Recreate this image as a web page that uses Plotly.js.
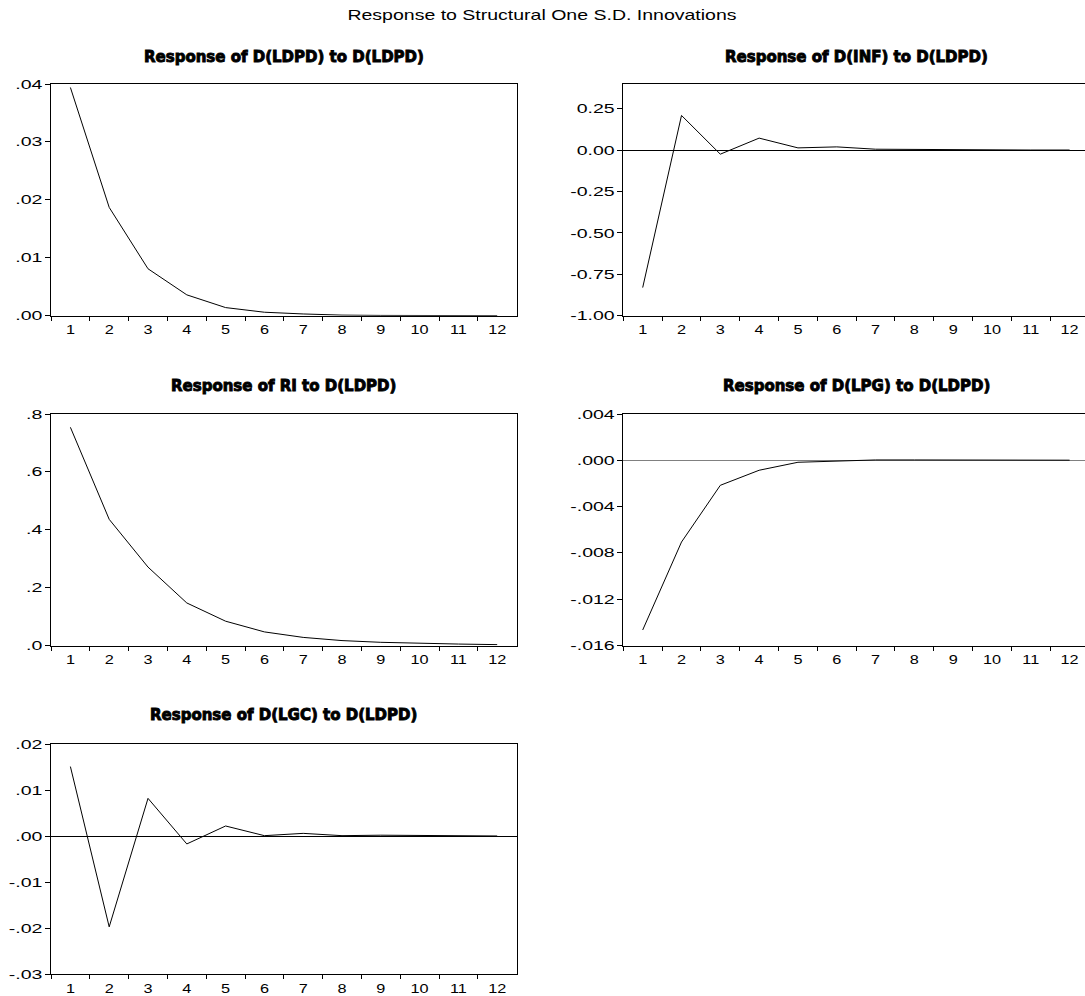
<!DOCTYPE html>
<html>
<head>
<meta charset="utf-8">
<script src="https://cdn.plot.ly/plotly-3.0.1.min.js"></script>
<style>
  html, body { margin: 0; padding: 0; overflow: hidden; background: #fff; }
  #chart { width: 1095px; height: 996px; }
  .annotation-text { stroke: #000; stroke-width: 0.9px; paint-order: stroke; }
</style>
</head>
<body>
<div id="chart"></div>
<script>
// ---- data ----
const periods = ["1","2","3","4","5","6","7","8","9","10","11","12"];

const mainTitle = "Response to Structural One S.D. Innovations";
const panelTitles = [
  "Response of D(LDPD) to D(LDPD)",
  "Response of D(INF) to D(LDPD)",
  "Response of RI to D(LDPD)",
  "Response of D(LPG) to D(LDPD)",
  "Response of D(LGC) to D(LDPD)"
];

const ldpd = [0.0394, 0.0187, 0.0081, 0.0036, 0.0014, 0.0006, 0.0003, 0.0001, 0.00005, 0.00002, 0.00001, 0.00001];
const inf  = [-0.830, 0.210, -0.024, 0.073, 0.014, 0.020, 0.006, 0.004, 0.002, 0.002, 0.001, 0.001];
const ri   = [0.754, 0.436, 0.271, 0.147, 0.084, 0.047, 0.028, 0.017, 0.011, 0.007, 0.005, 0.003];
const lpg  = [-0.01466, -0.00706, -0.00216, -0.00086, -0.00017, -0.00006, 0.00003, 0.00003, 0.00002, 0.00002, 0.00001, 0.00001];
const lgc  = [0.0151, -0.0197, 0.0082, -0.0017, 0.0022, 0.0001, 0.0006, 0.0001, 0.0002, 0.0001, 0.00005, 0.00003];

const ldpdTicks = [0, 0.01, 0.02, 0.03, 0.04];
const ldpdTickText = [".00", ".01", ".02", ".03", ".04"];
const infTicks = [-1.0, -0.75, -0.5, -0.25, 0, 0.25];
const infTickText = ["-1.00", "-0.75", "-0.50", "-0.25", "0.00", "0.25"];
const riTicks = [0, 0.2, 0.4, 0.6, 0.8];
const riTickText = [".0", ".2", ".4", ".6", ".8"];
const lpgTicks = [-0.016, -0.012, -0.008, -0.004, 0, 0.004];
const lpgTickText = ["-.016", "-.012", "-.008", "-.004", ".000", ".004"];
const lgcTicks = [-0.03, -0.02, -0.01, 0, 0.01, 0.02];
const lgcTickText = ["-.03", "-.02", "-.01", ".00", ".01", ".02"];

// ---- layout geometry (pixels) ----
const W = 1095, H = 996;
const cols = [[51, 516.6], [623.3, 1089]];
const rows = [[84, 315.7], [414, 645.5], [744, 974.3]];
const titleY = [57, 386, 715];

const panels = [
  {y: ldpd, ticks: ldpdTicks, text: ldpdTickText, range: [0, 0.04], zero: false, zc: "#000", c: 0, r: 0},
  {y: inf,  ticks: infTicks,  text: infTickText,  range: [-1.0, 0.4], zero: true, zc: "#000", c: 1, r: 0},
  {y: ri,   ticks: riTicks,   text: riTickText,   range: [0, 0.8], zero: false, zc: "#000", c: 0, r: 1},
  {y: lpg,  ticks: lpgTicks,  text: lpgTickText,  range: [-0.016, 0.004], zero: true, zc: "#808080", c: 1, r: 1},
  {y: lgc,  ticks: lgcTicks,  text: lgcTickText,  range: [-0.03, 0.02], zero: true, zc: "#000", c: 0, r: 2}
];

const tickFont = {family: "Liberation Sans, Arial, sans-serif", size: 13, color: "#000"};
const traces = [];
const layout = {
  width: W, height: H,
  margin: {l: 0, r: 0, t: 0, b: 0},
  paper_bgcolor: "#fff", plot_bgcolor: "#fff",
  showlegend: false,
  title: {
    text: mainTitle,
    font: {family: "Liberation Sans, Arial, sans-serif", size: 15, color: "#000"},
    x: 542 / W, xanchor: "center", xref: "paper",
    y: 1 - 15 / H, yanchor: "middle", yref: "paper"
  },
  annotations: []
};

panels.forEach((p, i) => {
  const n = i === 0 ? "" : String(i + 1);
  const xa = "x" + n, ya = "y" + n;
  traces.push({
    x: periods, y: p.y, xaxis: xa, yaxis: ya,
    type: "scatter", mode: "lines",
    line: {color: "#000", width: 1},
    hoverinfo: "skip"
  });
  const c = cols[p.c], r = rows[p.r];
  layout["xaxis" + n] = {
    domain: [c[0] / W, c[1] / W],
    anchor: ya,
    type: "category",
    categoryorder: "array", categoryarray: periods,
    range: [-0.5, 11.5],
    tickson: "boundaries",
    ticks: "outside", ticklen: 4, tickcolor: "#000", tickwidth: 1,
    ticklabelstandoff: 2,
    showline: true, linecolor: "#000", linewidth: 1, mirror: true,
    showgrid: false, zeroline: false,
    tickfont: tickFont,
    fixedrange: true
  };
  layout["yaxis" + n] = {
    domain: [1 - r[1] / H, 1 - r[0] / H],
    anchor: xa,
    range: p.range,
    tickmode: "array", tickvals: p.ticks, ticktext: p.text,
    ticks: "outside", ticklen: 5, tickcolor: "#000", tickwidth: 1,
    showline: true, linecolor: "#000", linewidth: 1, mirror: true,
    showgrid: false,
    zeroline: p.zero, zerolinecolor: p.zc, zerolinewidth: 1,
    tickfont: tickFont,
    fixedrange: true
  };
  layout.annotations.push({
    text: panelTitles[i],
    xref: "paper", yref: "paper",
    x: (c[0] + c[1]) / 2 / W, y: 1 - titleY[p.r] / H,
    xanchor: "center", yanchor: "middle",
    showarrow: false,
    font: {family: "DejaVu Sans, sans-serif", size: 15, color: "#000", weight: "bold"}
  });
});

// widen text horizontally, as in the (horizontally stretched) reference
function widen(selector, factor) {
  document.querySelectorAll(selector).forEach(el => {
    const len = el.getComputedTextLength();
    if (len > 0) {
      el.setAttribute("lengthAdjust", "spacingAndGlyphs");
      el.setAttribute("textLength", (len * factor).toFixed(2));
    }
  });
}

Plotly.newPlot("chart", traces, layout, {staticPlot: true, displayModeBar: false}).then(() => {
  widen("#chart .yaxislayer-above text", 1.5);
  widen("#chart .xaxislayer-above text", 1.25);
  widen("#chart .gtitle", 1.3);
});
</script>
</body>
</html>
